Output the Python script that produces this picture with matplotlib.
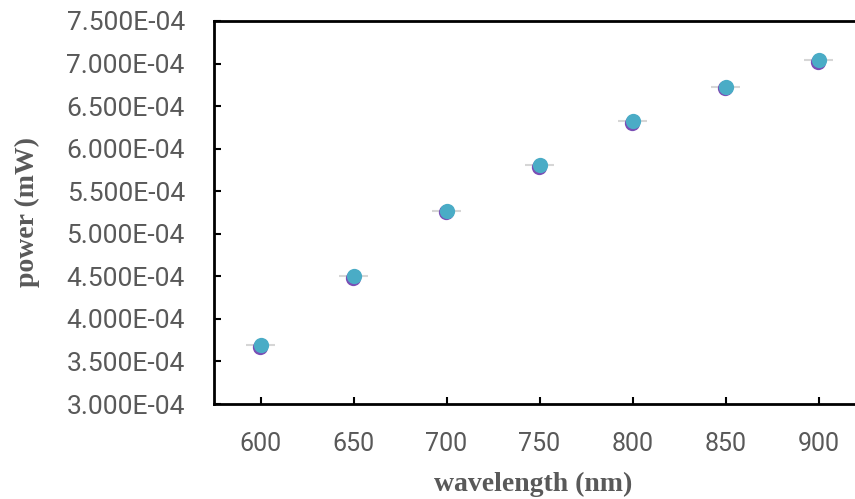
import numpy as np
import matplotlib.pyplot as plt
import matplotlib.transforms as mtransforms

wavelength = [600, 650, 700, 750, 800, 850, 900]
power = [3.69e-4, 4.50e-4, 5.27e-4, 5.81e-4, 6.32e-4, 6.73e-4, 7.04e-4]
wl_err = [8, 8, 8, 8, 8, 8, 8]
yticks = np.arange(3.0e-4, 7.51e-4, 0.5e-4)
xticks = [600, 650, 700, 750, 800, 850, 900]

fig = plt.figure(figsize=(8.55, 4.99), dpi=100)
ax = fig.add_axes([214/855, (499-404)/499, (865-214)/855, (404-21)/499])

ax.errorbar(wavelength, power, xerr=wl_err, fmt='none', ecolor='#d6d6d6', elinewidth=1.5, capsize=0, zorder=2)
# purple series peeking out beneath the teal one
shadow = mtransforms.offset_copy(ax.transData, fig=fig, x=-0.5, y=-1.2, units='points')
ax.plot(wavelength, power, 'o', ms=11, color='#7a4fb5', mec='none', transform=shadow, zorder=3)
ax.plot(wavelength, power, 'o', ms=11, color='#4aacc6', mec='none', zorder=4)

ax.set_xlim(575, 925)
ax.set_ylim(3.0e-4, 7.5e-4)
ax.set_xticks(xticks)
ax.set_yticks(yticks)
ax.set_yticklabels([f"{v*1e4:.3f}E-04" for v in yticks])
ax.tick_params(direction='in', length=5, width=1.5, colors='black', labelcolor='#595959')
ax.tick_params(axis='x', labelsize=18, pad=20)
ax.tick_params(axis='y', labelsize=19, pad=21)
for lab in ax.get_xticklabels() + ax.get_yticklabels():
    lab.set_family('Roboto')

for s in ['left', 'bottom', 'top']:
    ax.spines[s].set_linewidth(2)
ax.spines['right'].set_visible(False)

lab_font = dict(family='Liberation Serif', weight='bold', size=20, color='#595959')
ax.set_xlabel('wavelength (nm)', va='center', **lab_font)
ax.set_ylabel('power (mW)', va='center', **lab_font)
ax.xaxis.set_label_coords((533-214)/(865-214), (404-484)/383)
ax.yaxis.set_label_coords((27-214)/(865-214), (404-212)/383)

fig.savefig('out.png', dpi=100)
